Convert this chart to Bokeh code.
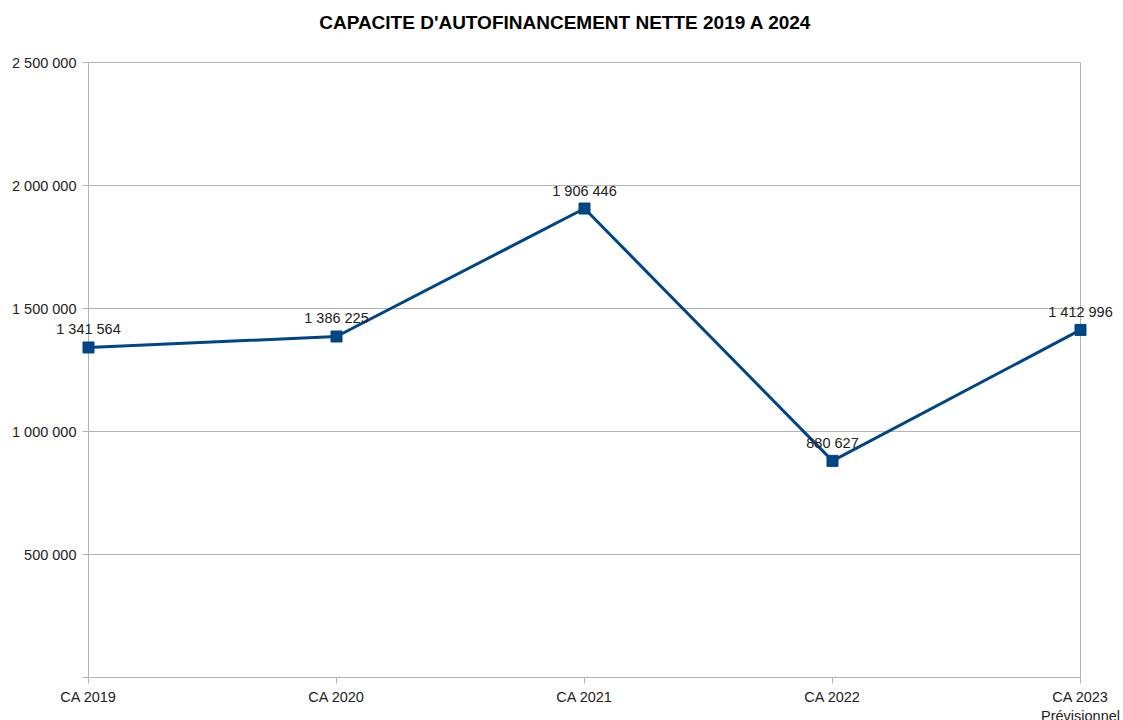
from bokeh.plotting import figure
from bokeh.models import FixedTicker, Range1d, ColumnDataSource, Label, LinearAxis
from bokeh.embed import file_html
from bokeh.resources import INLINE

title_text = "CAPACITE D'AUTOFINANCEMENT NETTE 2019 A 2024"
categories = ["CA 2019", "CA 2020", "CA 2021", "CA 2022", "CA 2023\nPrévisionnel"]
values = [1341564, 1386225, 1906446, 880627, 1412996]
value_labels = ["1 341 564", "1 386 225", "1 906 446", "880 627", "1 412 996"]
y_ticks = [0, 500000, 1000000, 1500000, 2000000, 2500000]
y_tick_labels = ["", "500 000", "1 000 000", "1 500 000", "2 000 000", "2 500 000"]
y_max = 2500000

FONT = "Liberation Sans"
GRID = "#b3b3b3"
BLUE = "#004586"

W, H = 1123, 720
# plot area in page pixels: x=0 at 88, last category at 1080, y=y_max at 62, y=0 at 677.
# The frame covers the whole page so no text is clipped; axes are placed at fixed locations.
AX_L, AX_R, AX_T, AX_B = 88, 1080, 62, 677
n = len(categories)
unit = (AX_R - AX_L) / (n - 1)
x_start = -AX_L / unit
x_end = (n - 1) + (W - AX_R) / unit
y_unit = y_max / (AX_B - AX_T)
y_end = y_unit * AX_B
y_start = -y_unit * (H - AX_B)

xs = list(range(n))
src = ColumnDataSource(dict(x=xs, y=values, lab=value_labels))

p = figure(width=W, height=H, output_backend="svg", toolbar_location=None,
           x_range=Range1d(x_start, x_end), y_range=Range1d(y_start, y_end),
           min_border_left=0, min_border_right=0, min_border_top=0, min_border_bottom=0)

p.outline_line_color = None
p.background_fill_color = "white"
p.border_fill_color = "white"

p.xgrid.grid_line_color = None
p.ygrid.grid_line_color = GRID
p.ygrid.ticker = FixedTicker(ticks=y_ticks)
try:
    p.ygrid.cross_bounds = (0, n - 1)
except AttributeError:
    p.ygrid.grid_line_color = None
    p.segment(x0=[0] * len(y_ticks), x1=[n - 1] * len(y_ticks), y0=y_ticks, y1=y_ticks,
              line_color=GRID, line_width=1, level="underlay")

p.yaxis.ticker = FixedTicker(ticks=y_ticks)
p.yaxis.major_label_overrides = {t: l for t, l in zip(y_ticks, y_tick_labels)}
p.yaxis.fixed_location = 0
p.yaxis.bounds = (0, y_max)
p.yaxis.level = "underlay"
p.xaxis.ticker = FixedTicker(ticks=xs)
p.xaxis.major_label_overrides = {i: c for i, c in zip(xs, categories)}
p.xaxis.fixed_location = 0
p.xaxis.bounds = (0, n - 1)

for ax in (p.xaxis, p.yaxis):
    ax.axis_line_color = GRID
    ax.major_tick_line_color = GRID
    ax.major_tick_out = 6
    ax.major_tick_in = 0
    ax.minor_tick_line_color = None
    ax.major_label_text_font = FONT
    ax.major_label_text_font_size = "14.5px"
    ax.major_label_text_color = "#222222"
p.yaxis.major_label_standoff = 6
p.xaxis.major_label_standoff = 5

# right border of the plot area
right = LinearAxis(fixed_location=n - 1, bounds=(0, y_max), ticker=FixedTicker(ticks=[]),
                   axis_line_color=GRID, major_tick_line_color=None, minor_tick_line_color=None,
                   major_label_text_font_size="0px", level="underlay")
p.add_layout(right, "right")

p.line("x", "y", source=src, line_color=BLUE, line_width=3)
p.scatter("x", "y", source=src, marker="square", size=11, fill_color=BLUE, line_color=BLUE)
for xv, yv, lab in zip(xs, values, value_labels):
    p.add_layout(Label(x=xv, y=yv, text=lab, text_font=FONT, text_font_size="14.5px",
                       text_align="center", text_baseline="middle", y_offset=18,
                       text_color="#222222"))

p.add_layout(Label(x=565, y=H - 22, x_units="screen", y_units="screen", text=title_text,
                   text_font=FONT, text_font_size="19px", text_font_style="bold",
                   text_align="center", text_baseline="middle", text_color="#000000"))

open("out.html", "w").write(file_html(p, INLINE))
